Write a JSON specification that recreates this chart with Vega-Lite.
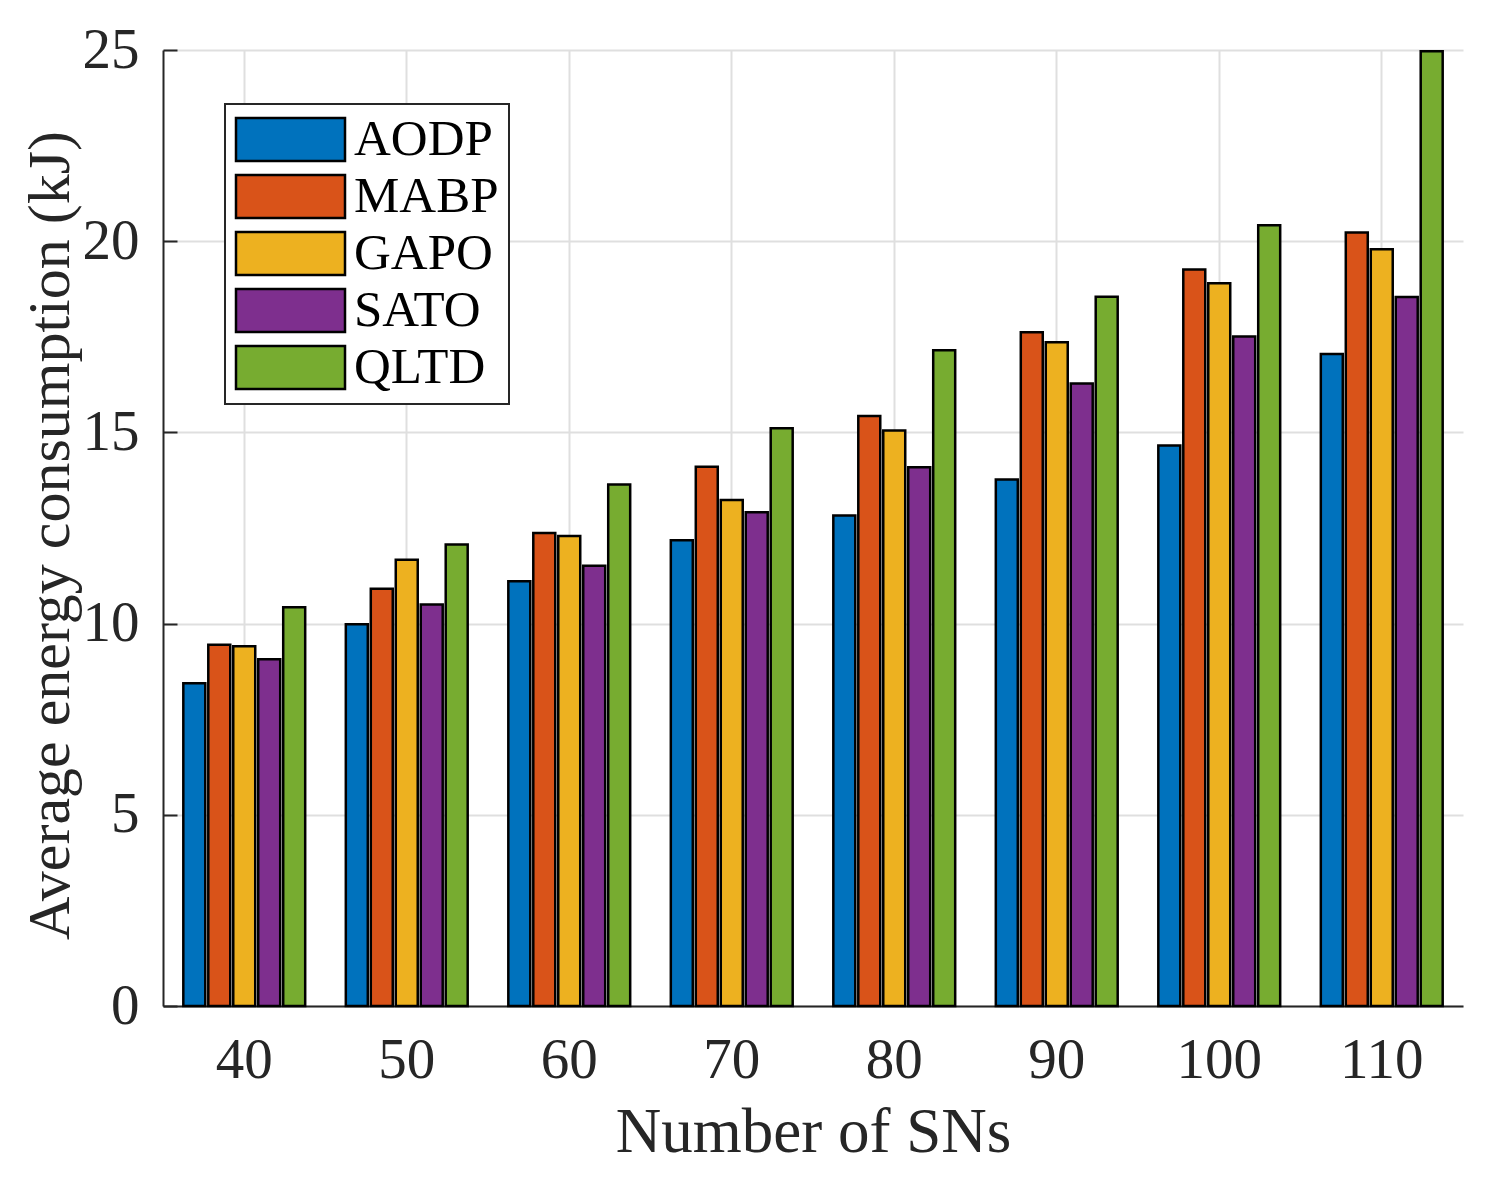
{
  "$schema": "https://vega.github.io/schema/vega-lite/v6.json",
  "width": 1300,
  "height": 956,
  "autosize": "none",
  "padding": {"left": 163, "top": 50, "right": 29, "bottom": 187},
  "background": "white",
  "data": {
    "values": [
      {"sn": "40", "method": "AODP", "energy": 8.44},
      {"sn": "40", "method": "MABP", "energy": 9.45},
      {"sn": "40", "method": "GAPO", "energy": 9.41},
      {"sn": "40", "method": "SATO", "energy": 9.07},
      {"sn": "40", "method": "QLTD", "energy": 10.43},
      {"sn": "50", "method": "AODP", "energy": 9.98},
      {"sn": "50", "method": "MABP", "energy": 10.91},
      {"sn": "50", "method": "GAPO", "energy": 11.67},
      {"sn": "50", "method": "SATO", "energy": 10.5},
      {"sn": "50", "method": "QLTD", "energy": 12.07},
      {"sn": "60", "method": "AODP", "energy": 11.11},
      {"sn": "60", "method": "MABP", "energy": 12.37},
      {"sn": "60", "method": "GAPO", "energy": 12.29},
      {"sn": "60", "method": "SATO", "energy": 11.51},
      {"sn": "60", "method": "QLTD", "energy": 13.64},
      {"sn": "70", "method": "AODP", "energy": 12.18},
      {"sn": "70", "method": "MABP", "energy": 14.1},
      {"sn": "70", "method": "GAPO", "energy": 13.23},
      {"sn": "70", "method": "SATO", "energy": 12.91},
      {"sn": "70", "method": "QLTD", "energy": 15.11},
      {"sn": "80", "method": "AODP", "energy": 12.83},
      {"sn": "80", "method": "MABP", "energy": 15.43},
      {"sn": "80", "method": "GAPO", "energy": 15.05},
      {"sn": "80", "method": "SATO", "energy": 14.09},
      {"sn": "80", "method": "QLTD", "energy": 17.15},
      {"sn": "90", "method": "AODP", "energy": 13.77},
      {"sn": "90", "method": "MABP", "energy": 17.62},
      {"sn": "90", "method": "GAPO", "energy": 17.36},
      {"sn": "90", "method": "SATO", "energy": 16.28},
      {"sn": "90", "method": "QLTD", "energy": 18.55},
      {"sn": "100", "method": "AODP", "energy": 14.66},
      {"sn": "100", "method": "MABP", "energy": 19.26},
      {"sn": "100", "method": "GAPO", "energy": 18.9},
      {"sn": "100", "method": "SATO", "energy": 17.51},
      {"sn": "100", "method": "QLTD", "energy": 20.42},
      {"sn": "110", "method": "AODP", "energy": 17.05},
      {"sn": "110", "method": "MABP", "energy": 20.23},
      {"sn": "110", "method": "GAPO", "energy": 19.79},
      {"sn": "110", "method": "SATO", "energy": 18.54},
      {"sn": "110", "method": "QLTD", "energy": 24.97}
    ]
  },
  "mark": {"type": "bar", "stroke": "black", "strokeWidth": 2.5},
  "encoding": {
    "x": {
      "field": "sn",
      "type": "ordinal",
      "sort": null,
      "scale": {"paddingInner": 0.25, "paddingOuter": 0.125},
      "axis": {
        "title": "Number of SNs",
        "titleFontSize": 63,
        "titleX": 650,
        "titleY": 145,
        "titleBaseline": "alphabetic",
        "labelAngle": 0,
        "labelFontSize": 57,
        "labelBaseline": "alphabetic",
        "labelPadding": 71,
        "ticks": false,
        "grid": true
      }
    },
    "xOffset": {
      "field": "method",
      "sort": ["AODP", "MABP", "GAPO", "SATO", "QLTD"],
      "scale": {"paddingInner": 0.12, "paddingOuter": 0}
    },
    "y": {
      "field": "energy",
      "type": "quantitative",
      "scale": {"domain": [0, 25], "nice": false},
      "axis": {
        "title": "Average energy consumption (kJ)",
        "titleFontSize": 60,
        "titleX": -95,
        "titleY": 485,
        "titleAngle": -90,
        "titleBaseline": "alphabetic",
        "values": [0, 5, 10, 15, 20, 25],
        "labelFontSize": 57,
        "tickSize": -14,
        "labelPadding": 38,
        "grid": true
      }
    },
    "color": {
      "field": "method",
      "sort": ["AODP", "MABP", "GAPO", "SATO", "QLTD"],
      "scale": {
        "domain": ["AODP", "MABP", "GAPO", "SATO", "QLTD"],
        "range": ["#0072BD", "#D95319", "#EDB120", "#7E2F8E", "#77AC30"]
      },
      "legend": {
        "title": null,
        "orient": "none",
        "legendX": 62,
        "legendY": 54,
        "symbolType": "M-2.535,-1H2.535V1H-2.535Z",
        "symbolSize": 1849,
        "symbolOffset": 30,
        "symbolStrokeColor": "black",
        "symbolStrokeWidth": 2.5,
        "symbolOpacity": 1,
        "labelOffset": 38,
        "labelFontSize": 51,
        "labelFont": "Liberation Serif",
        "labelColor": "black",
        "rowPadding": 4,
        "padding": 10,
        "strokeColor": "#262626",
        "fillColor": "white",
        "encode": {
          "legend": {"update": {"strokeWidth": {"value": 2}}}
        }
      }
    }
  },
  "config": {
    "font": "Liberation Serif",
    "view": {"stroke": null},
    "axis": {
      "labelFont": "Liberation Serif",
      "titleFont": "Liberation Serif",
      "labelColor": "#262626",
      "titleColor": "#262626",
      "titleFontWeight": "normal",
      "domainColor": "#262626",
      "domainWidth": 2,
      "tickColor": "#262626",
      "tickWidth": 2,
      "gridColor": "#dfdfdf",
      "gridWidth": 2,
      "gridOpacity": 1
    }
  }
}
